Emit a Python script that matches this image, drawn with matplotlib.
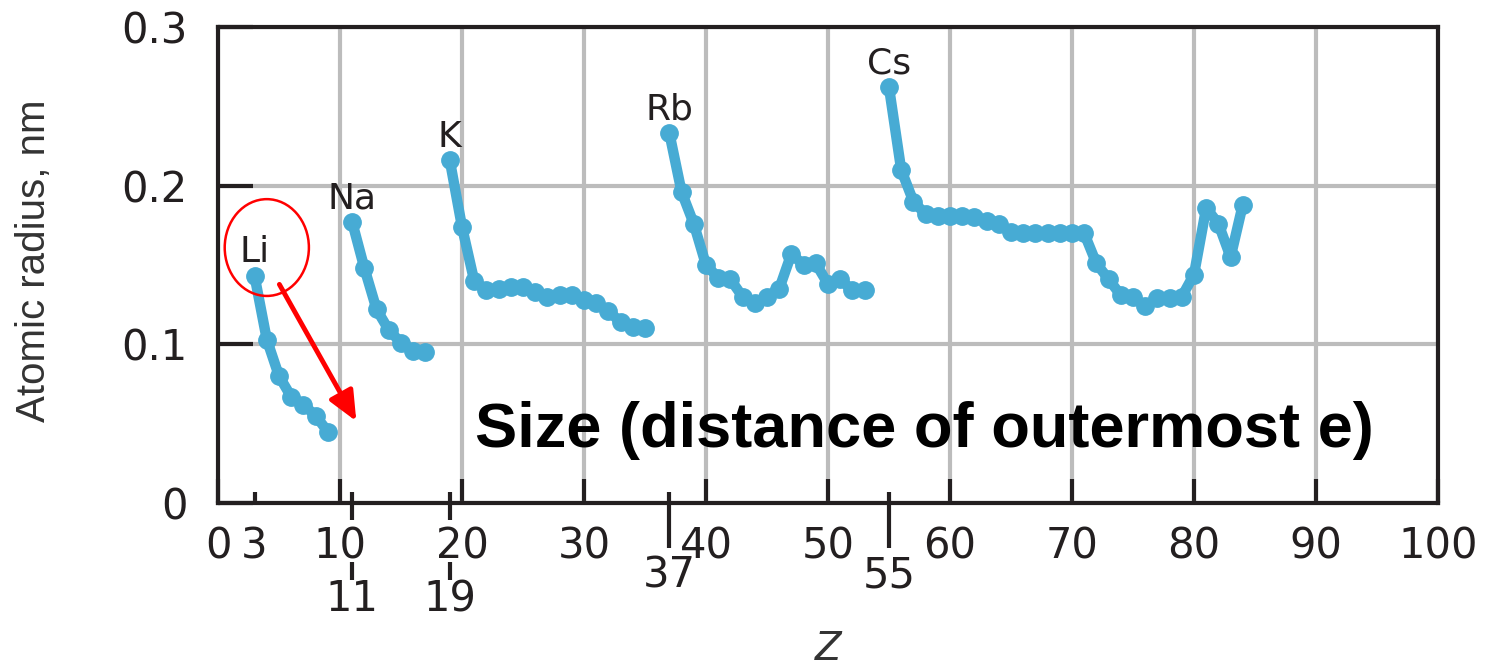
import matplotlib
matplotlib.use("Agg")
import matplotlib.pyplot as plt
from matplotlib import font_manager
from matplotlib.patches import Ellipse, FancyArrowPatch
from matplotlib.transforms import blended_transform_factory

# ---------------- data ----------------
li_z = [3, 4, 5, 6, 7, 8, 9]
li_r = [0.143, 0.103, 0.080, 0.067, 0.062, 0.055, 0.045]

na_z = [11, 12, 13, 14, 15, 16, 17]
na_r = [0.177, 0.148, 0.122, 0.109, 0.101, 0.096, 0.095]

k_z = list(range(19, 36))
k_r = [0.216, 0.174, 0.140, 0.134, 0.135, 0.136, 0.136, 0.133, 0.130,
       0.131, 0.131, 0.128, 0.126, 0.121, 0.114, 0.111, 0.110]

rb_z = list(range(37, 54))
rb_r = [0.233, 0.196, 0.176, 0.150, 0.142, 0.141, 0.130, 0.126, 0.130,
        0.135, 0.157, 0.150, 0.151, 0.138, 0.141, 0.134, 0.134]

cs_z = list(range(55, 85))
cs_r = [0.262, 0.210, 0.190, 0.182, 0.181, 0.181, 0.181, 0.180, 0.178,
        0.176, 0.171, 0.170, 0.170, 0.170, 0.170, 0.170, 0.170, 0.151,
        0.141, 0.131, 0.130, 0.124, 0.129, 0.129, 0.130, 0.144, 0.186,
        0.176, 0.155, 0.188]

element_labels = ["Li", "Na", "K", "Rb", "Cs"]
x_major = [0, 10, 20, 30, 40, 50, 60, 70, 80, 90, 100]
x_minor = [3]
y_ticks = [0, 0.1, 0.2, 0.3]
y_ticklabels = ["0", "0.1", "0.2", "0.3"]
marked_short = [11, 19]
marked_long = [37, 55]

# ---------------- style ----------------
LINE = "#47abd4"
DARK = "#231f20"
GRID = "#bcbcbc"

def has_font(name):
    try:
        font_manager.findfont(font_manager.FontProperties(family=name),
                              fallback_to_default=False)
        return True
    except Exception:
        return False

narrow = "Liberation Sans Narrow" if has_font("Liberation Sans Narrow") else "Liberation Sans"
boldfam = "Liberation Sans" if has_font("Liberation Sans") else "DejaVu Sans"

fig = plt.figure(figsize=(14.95, 6.67), dpi=100)
ax = fig.add_axes([218 / 1495, 1 - 503 / 667, 1220 / 1495, 476 / 667])

ax.set_xlim(0, 100)
ax.set_ylim(0, 0.3)

ax.grid(True, which="major", color=GRID, lw=3, zorder=0)
ax.set_axisbelow(True)

series = [(li_z, li_r), (na_z, na_r), (k_z, k_r), (rb_z, rb_r), (cs_z, cs_r)]
for (zs, rs), lab in zip(series, element_labels):
    ax.plot(zs, rs, color=LINE, lw=7.5, marker="o", ms=12.5,
            solid_capstyle="round", solid_joinstyle="round", zorder=3)
    ax.annotate(lab, (zs[0], rs[0]), xytext=(0, 17), textcoords="offset points",
                ha="center", va="center", fontsize=26, color=DARK, zorder=4)

for s in ax.spines.values():
    s.set_color(DARK)
    s.set_linewidth(3)

ax.set_xticks(x_major)
ax.set_xticklabels([str(v) for v in x_major])
ax.set_xticks(x_minor, minor=True)
ax.set_xticklabels([str(v) for v in x_minor], minor=True)
ax.set_yticks(y_ticks)
ax.set_yticklabels(y_ticklabels)

ax.tick_params(axis="x", which="major", direction="in", length=17, width=3,
               pad=16, labelsize=30, colors=DARK, top=False)
ax.tick_params(axis="x", which="minor", direction="in", length=8, width=3,
               pad=16, labelsize=30, colors=DARK, top=False)
ax.tick_params(axis="y", which="major", direction="in", length=25, width=3,
               pad=22, labelsize=30, colors=DARK, right=False)

# special marked ticks crossing the axis
tr = blended_transform_factory(ax.transData, ax.transAxes)
px = 1 / 476
for z in marked_short:
    ax.plot([z, z], [11 * px, -17 * px], transform=tr, clip_on=False,
            color=DARK, lw=3, solid_capstyle="butt")
    ax.plot([z, z], [-59 * px, -77 * px], transform=tr, clip_on=False,
            color=DARK, lw=3, solid_capstyle="butt")
    ax.text(z, -96 * px, str(z), transform=tr, ha="center", va="center",
            fontsize=30, color=DARK)
for z in marked_long:
    ax.plot([z, z], [11 * px, -45 * px], transform=tr, clip_on=False,
            color=DARK, lw=3, solid_capstyle="butt")
    ax.text(z, -73 * px, str(z), transform=tr, ha="center", va="center",
            fontsize=30, color=DARK)

ax.set_ylabel("Atomic radius, nm", family=narrow, fontsize=29, color="#333333",
              va="center")
ax.yaxis.set_label_coords(-0.151, 0.508)
ax.set_xlabel("Z", fontsize=28, style="italic", color="#333333", va="baseline")
ax.xaxis.set_label_coords(0.5, -157 * px)

# annotations
ell = Ellipse((4.0, 0.161), 6.9, 0.061, fill=False, edgecolor="red", lw=1.8,
              zorder=5)
ax.add_patch(ell)
arr = FancyArrowPatch((4.92, 0.1393), (11.45, 0.050),
                      arrowstyle="-|>,head_length=0.9,head_width=0.4",
                      mutation_scale=20, color="red", lw=3.5, zorder=5)
ax.add_patch(arr)

ax.text(21.05, 0.0355, "Size (distance of outermost e)", family=boldfam,
        fontweight="bold", fontsize=45.5, color="black", ha="left",
        va="baseline", zorder=6)

fig.savefig("out.png", dpi=100)
